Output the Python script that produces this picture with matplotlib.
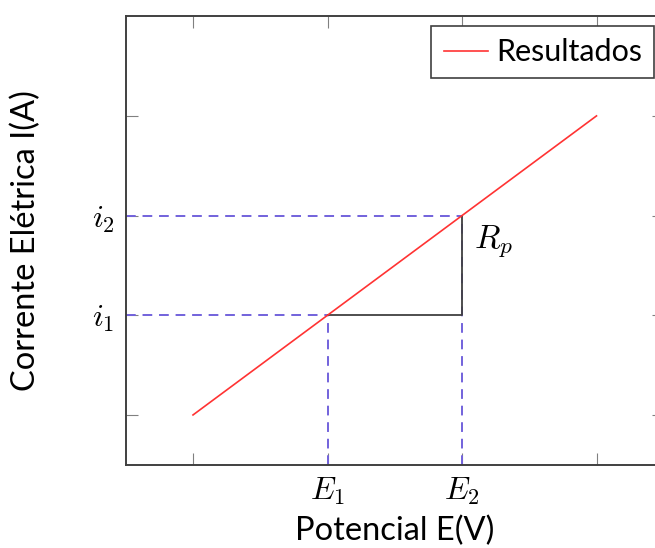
import matplotlib

matplotlib.use("Agg")
import matplotlib.pyplot as plt

# data
line_x = [0, 3]
line_y = [0, 3]
e_points = [1, 2]          # E1, E2
i_points = [1, 2]          # i1, i2
tick_pos = [0, 1, 2, 3]
x_ticklabels = ["", "$E_1$", "$E_2$", ""]
y_ticklabels = ["", "$i_1$", "$i_2$", ""]
legend_label = "Resultados"
xlabel = "Potencial E(V)"
ylabel = "Corrente Elétrica I(A)"

plt.rcParams["font.family"] = ["Lato", "DejaVu Sans"]
plt.rcParams["mathtext.fontset"] = "cm"

fig = plt.figure(figsize=(6.55, 5.48), dpi=100)
# right edge of the axes sits just past the figure edge, as in the cropped reference
ax = fig.add_axes([125.75 / 655, 1 - 464.8 / 548, 538 / 655, 448.6 / 548])
ax.set_xlim(-0.5, 3.5)
ax.set_ylim(-0.5, 4.0)

dash_color = "#7262dc"
x0 = ax.get_xlim()[0]
y0 = ax.get_ylim()[0]
for e, i in zip(e_points, i_points):
    ax.plot([x0, e], [i, i], color=dash_color, lw=1.4, ls=(0, (5, 3.5)), zorder=2)
    ax.plot([e, e], [y0, i], color=dash_color, lw=1.4, ls=(0, (5, 3.5)), zorder=2)

# slope triangle
ax.plot([e_points[0], e_points[1], e_points[1]], [i_points[0], i_points[0], i_points[1]],
        color="#404040", lw=1.3, zorder=3)
ax.text(e_points[1] + 0.09, (i_points[0] + i_points[1]) / 2 + 0.24, "$R_p$", fontsize=24,
        ha="left", va="center")

ax.plot(line_x, line_y, color="#ff3333", lw=1.2, label=legend_label, zorder=4)

ax.set_xticks(tick_pos)
ax.set_xticklabels(x_ticklabels, fontsize=23)
ax.set_yticks(tick_pos)
ax.set_yticklabels(y_ticklabels, fontsize=23)
ax.tick_params(direction="in", top=True, right=True, length=8.5, width=0.8,
               color="#808080", pad=8)

for s in ax.spines.values():
    s.set_linewidth(1.4)
    s.set_color("#404040")

ax.set_xlabel(xlabel, fontsize=23.5, labelpad=6)
ax.set_ylabel(ylabel, fontsize=23.5, labelpad=36)

leg = ax.legend(loc="upper right", bbox_to_anchor=(654 / 655, 1 - 26 / 548),
                bbox_transform=fig.transFigure, borderaxespad=0, fontsize=22,
                fancybox=False, framealpha=1, edgecolor="#404040",
                handlelength=1.45, handletextpad=0.26, borderpad=0.4)
leg.get_frame().set_linewidth(1.2)

fig.savefig("out.png", dpi=100)
